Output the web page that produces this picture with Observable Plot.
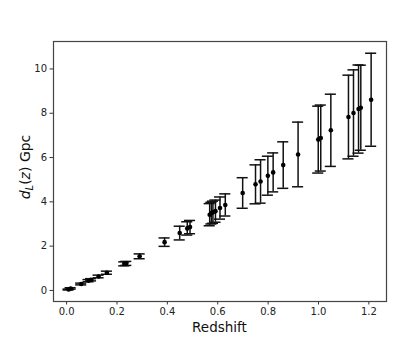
<!DOCTYPE html>
<html>
<head>
<meta charset="utf-8">
<script src="https://cdn.jsdelivr.net/npm/d3@7"></script>
<script src="https://cdn.jsdelivr.net/npm/@observablehq/plot@0.6"></script>
<style>
  html, body { margin: 0; padding: 0; background: #fff; }
  #chart { width: 415px; height: 346px; }
</style>
</head>
<body>
<div id="chart"></div>
<script>
const redshift = [0.008, 0.016, 0.058, 0.087, 0.097, 0.127, 0.16, 0.229, 0.237, 0.29, 0.389, 0.449, 0.479, 0.49, 0.568, 0.575, 0.581, 0.591, 0.609, 0.63, 0.699, 0.75, 0.77, 0.799, 0.82, 0.86, 0.919, 0.999, 1.009, 1.049, 1.119, 1.139, 1.159, 1.168, 1.209];
const distance = [0.04, 0.09, 0.29, 0.44, 0.48, 0.63, 0.80, 1.20, 1.22, 1.54, 2.18, 2.59, 2.80, 2.86, 3.42, 3.49, 3.53, 3.58, 3.72, 3.86, 4.40, 4.79, 4.92, 5.18, 5.33, 5.66, 6.14, 6.81, 6.88, 7.23, 7.83, 8.01, 8.19, 8.25, 8.61];
const errorGpc = [0.02, 0.03, 0.04, 0.05, 0.05, 0.06, 0.07, 0.09, 0.09, 0.11, 0.19, 0.31, 0.30, 0.30, 0.50, 0.49, 0.50, 0.50, 0.50, 0.50, 0.69, 0.88, 0.98, 0.88, 0.88, 1.05, 1.46, 1.51, 1.49, 1.63, 1.89, 1.95, 1.99, 1.92, 2.10];
const xTicks = [0.0, 0.2, 0.4, 0.6, 0.8, 1.0, 1.2];
const yTicks = [0, 2, 4, 6, 8, 10];

const data = redshift.map((z, i) => ({ z, d: distance[i], e: errorGpc[i] }));
const capHalf = 0.022; // cap half-width in redshift units

const plot = Plot.plot({
  width: 415,
  height: 346,
  marginLeft: 53,
  marginRight: 29,
  marginTop: 41,
  marginBottom: 45,
  style: { fontFamily: "DejaVu Sans, sans-serif", fontSize: "10px", background: "#fff", color: "#222" },
  x: { domain: [-0.052, 1.27], ticks: xTicks, tickFormat: d3.format(".1f"), label: null },
  y: { domain: [-0.5, 11.24], ticks: yTicks, tickFormat: d3.format("d"), label: null },
  marks: [
    Plot.axisX({ ticks: xTicks, tickFormat: d3.format(".1f"), tickSize: 3.5, tickPadding: 3, label: null, stroke: "#333", fill: "#222" }),
    Plot.axisY({ ticks: yTicks, tickFormat: d3.format("d"), tickSize: 3.5, tickPadding: 3, label: null, stroke: "#333", fill: "#222" }),
    Plot.ruleX(data, { x: "z", y1: d => d.d - d.e, y2: d => d.d + d.e, stroke: "#111", strokeWidth: 1.5 }),
    Plot.ruleY(data, { y: d => d.d - d.e, x1: d => d.z - capHalf, x2: d => d.z + capHalf, stroke: "#111", strokeWidth: 1.5 }),
    Plot.ruleY(data, { y: d => d.d + d.e, x1: d => d.z - capHalf, x2: d => d.z + capHalf, stroke: "#111", strokeWidth: 1.5 }),
    Plot.dot(data, { x: "z", y: "d", r: 2.3, fill: "#000", stroke: "none" }),
    Plot.frame({ stroke: "#444", strokeWidth: 1.2 })
  ]
});

const svg = d3.select(plot);
svg.append("text")
  .attr("x", 219.5).attr("y", 332)
  .attr("text-anchor", "middle")
  .attr("font-family", "DejaVu Sans, sans-serif")
  .attr("font-size", 13.5).attr("fill", "#111")
  .text("Redshift");

const yl = svg.append("text")
  .attr("transform", "translate(30,167) rotate(-90)")
  .attr("text-anchor", "middle")
  .attr("font-family", "DejaVu Sans, sans-serif")
  .attr("font-size", 14).attr("fill", "#111");
yl.append("tspan").attr("font-style", "italic").text("d");
yl.append("tspan").attr("font-style", "italic").attr("font-size", 10).attr("dy", 3).text("L");
yl.append("tspan").attr("dy", -3).text("(");
yl.append("tspan").attr("font-style", "italic").text("z");
yl.append("tspan").text(") Gpc");

document.getElementById("chart").appendChild(plot);
</script>
</body>
</html>
